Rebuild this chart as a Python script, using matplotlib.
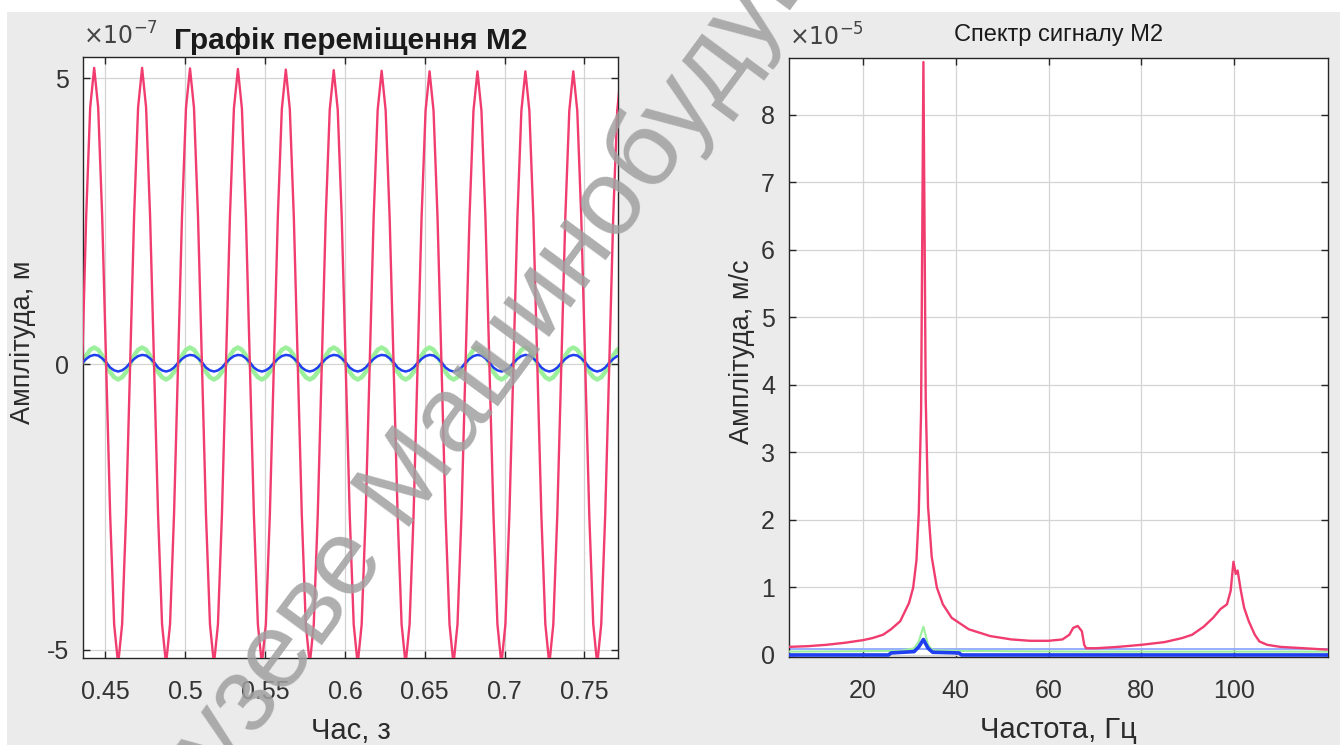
import matplotlib
matplotlib.use("Agg")
import matplotlib.pyplot as plt
import numpy as np
from matplotlib.patches import Rectangle

plt.rcParams['font.family'] = ['Liberation Sans', 'DejaVu Sans']

# displacement of M2, units of 1e-7 m, one sample every 0.0025 s from 0.4355 s
red_disp = [
    0.0, 2.59, 4.49, 5.18, 4.49, 2.59, 0.0, -2.63, -4.55, -5.25, -4.55, -2.63,
    0.0, 2.59, 4.49, 5.18, 4.49, 2.59, 0.0, -2.63, -4.55, -5.25, -4.55, -2.63,
    0.0, 2.59, 4.48, 5.17, 4.48, 2.59, 0.0, -2.63, -4.55, -5.25, -4.55, -2.63,
    0.0, 2.58, 4.47, 5.16, 4.47, 2.58, 0.0, -2.63, -4.55, -5.25, -4.55, -2.63,
    0.0, 2.58, 4.46, 5.15, 4.46, 2.58, 0.0, -2.63, -4.55, -5.25, -4.55, -2.63,
    0.0, 2.57, 4.45, 5.14, 4.45, 2.57, 0.0, -2.63, -4.55, -5.25, -4.55, -2.63,
    0.0, 2.57, 4.44, 5.13, 4.44, 2.57, 0.0, -2.63, -4.55, -5.25, -4.55, -2.63,
    0.0, 2.56, 4.43, 5.12, 4.43, 2.56, 0.0, -2.63, -4.55, -5.25, -4.55, -2.63,
    0.0, 2.56, 4.43, 5.12, 4.43, 2.56, 0.0, -2.63, -4.55, -5.25, -4.55, -2.63,
    0.0, 2.56, 4.43, 5.12, 4.43, 2.56, 0.0, -2.63, -4.55, -5.25, -4.55, -2.63,
    0.0, 2.56, 4.43, 5.12, 4.43, 2.56, 0.0, -2.63, -4.55, -5.25, -4.55, -2.63,
    0.0, 2.56, 4.43, 5.12,
]
green_disp = [
    0.0, 0.15, 0.25, 0.29, 0.25, 0.15, 0.0, -0.14, -0.23, -0.27, -0.23, -0.14,
    0.0, 0.15, 0.25, 0.29, 0.25, 0.15, 0.0, -0.14, -0.23, -0.27, -0.23, -0.14,
    0.0, 0.15, 0.25, 0.29, 0.25, 0.15, 0.0, -0.14, -0.23, -0.27, -0.23, -0.14,
    0.0, 0.15, 0.25, 0.29, 0.25, 0.15, 0.0, -0.14, -0.23, -0.27, -0.23, -0.14,
    0.0, 0.15, 0.25, 0.29, 0.25, 0.15, 0.0, -0.14, -0.23, -0.27, -0.23, -0.14,
    0.0, 0.15, 0.25, 0.29, 0.25, 0.15, 0.0, -0.14, -0.23, -0.27, -0.23, -0.14,
    0.0, 0.15, 0.25, 0.29, 0.25, 0.15, 0.0, -0.14, -0.23, -0.27, -0.23, -0.14,
    0.0, 0.15, 0.25, 0.29, 0.25, 0.15, 0.0, -0.14, -0.23, -0.27, -0.23, -0.14,
    0.0, 0.15, 0.25, 0.29, 0.25, 0.15, 0.0, -0.14, -0.23, -0.27, -0.23, -0.14,
    0.0, 0.15, 0.25, 0.29, 0.25, 0.15, 0.0, -0.14, -0.23, -0.27, -0.23, -0.14,
    0.0, 0.15, 0.25, 0.29, 0.25, 0.15, 0.0, -0.14, -0.23, -0.27, -0.23, -0.14,
    0.0, 0.15, 0.25, 0.29,
]
blue_disp = [
    0.02, 0.09, 0.14, 0.16, 0.15, 0.10, 0.03, -0.06, -0.11, -0.13, -0.11, -0.06,
    0.02, 0.09, 0.14, 0.16, 0.15, 0.10, 0.03, -0.06, -0.11, -0.13, -0.11, -0.06,
    0.02, 0.09, 0.14, 0.16, 0.15, 0.10, 0.03, -0.06, -0.11, -0.13, -0.11, -0.06,
    0.02, 0.09, 0.14, 0.16, 0.15, 0.10, 0.03, -0.06, -0.11, -0.13, -0.11, -0.06,
    0.02, 0.09, 0.14, 0.16, 0.15, 0.10, 0.03, -0.06, -0.11, -0.13, -0.11, -0.06,
    0.02, 0.09, 0.14, 0.16, 0.15, 0.10, 0.03, -0.06, -0.11, -0.13, -0.11, -0.06,
    0.02, 0.09, 0.14, 0.16, 0.15, 0.10, 0.03, -0.06, -0.11, -0.13, -0.11, -0.06,
    0.02, 0.09, 0.14, 0.16, 0.15, 0.10, 0.03, -0.06, -0.11, -0.13, -0.11, -0.06,
    0.02, 0.09, 0.14, 0.16, 0.15, 0.10, 0.03, -0.06, -0.11, -0.13, -0.11, -0.06,
    0.02, 0.09, 0.14, 0.16, 0.15, 0.10, 0.03, -0.06, -0.11, -0.13, -0.11, -0.06,
    0.02, 0.09, 0.14, 0.16, 0.15, 0.10, 0.03, -0.06, -0.11, -0.13, -0.11, -0.06,
    0.02, 0.09, 0.14, 0.16,
]
t = np.linspace(0.4355, 0.773, len(red_disp))

# spectrum of M2, units of 1e-5
red_f = [4, 8, 12, 16, 20, 22, 24.3, 26, 28, 29.9, 30.8, 31.5, 32.0, 32.5, 33.0,
         33.5, 34.0, 34.8, 35.9, 37.2, 39.1, 42.8, 47.4, 52, 56, 60, 63, 64.5,
         65.3, 66.3, 67.2, 67.7, 68.1, 70.4, 75, 80, 85, 88.8, 91, 93.5, 95.5,
         97.1, 98.5, 99.3, 99.9, 100.4, 100.8, 101.5, 102.2, 103.2, 104.5,
         105.5, 107.2, 110, 115, 120]
red_amp = [0.12, 0.13, 0.15, 0.18, 0.22, 0.25, 0.30, 0.38, 0.50, 0.77, 1.0, 1.4,
           2.1, 3.6, 8.78, 3.8, 2.2, 1.45, 1.0, 0.75, 0.55, 0.38, 0.28, 0.23,
           0.21, 0.21, 0.23, 0.30, 0.40, 0.43, 0.35, 0.15, 0.10, 0.10, 0.12,
           0.15, 0.19, 0.25, 0.30, 0.42, 0.55, 0.68, 0.75, 0.95, 1.38, 1.2, 1.25,
           0.95, 0.70, 0.50, 0.30, 0.20, 0.15, 0.12, 0.10, 0.08]
lblue_f = [4, 30, 40, 68, 120]
lblue_amp = [0.09, 0.09, 0.09, 0.09, 0.09]
green_f = [4, 28, 31, 32, 33, 34, 35, 40, 68, 120]
green_amp = [0.05, 0.06, 0.10, 0.20, 0.42, 0.15, 0.07, 0.06, 0.05, 0.05]
blue_f = [4, 25.5, 26, 31, 32, 33, 34, 35, 40.7, 41.2, 120]
blue_amp = [0.0, 0.0, 0.03, 0.05, 0.12, 0.23, 0.10, 0.04, 0.03, 0.0, 0.0]

RED = '#f03c6e'
GREEN = '#9cf09c'
BLUE = '#1f3ff0'
LBLUE = '#8fa8ff'
TXT = '#2b2b2b'

fig = plt.figure(figsize=(13.4, 7.45), dpi=100, facecolor='white')
# grey window background behind the axes
fig.patches.append(Rectangle((7 / 1340, 0), 1, 733 / 745, transform=fig.transFigure,
                             facecolor='#ebebeb', edgecolor='none', zorder=-5))

ax1 = fig.add_axes([83 / 1340, 1 - 658 / 745, 535 / 1340, 601 / 745])
ax2 = fig.add_axes([789 / 1340, 1 - 657 / 745, 539 / 1340, 599 / 745])

ax1.plot(t, green_disp, color=GREEN, lw=3.2, zorder=2)
ax1.plot(t, blue_disp, color=BLUE, lw=1.8, zorder=3)
ax1.plot(t, red_disp, color=RED, lw=1.7, zorder=4)
ax1.set_xlim(0.436, 0.771)
ax1.set_ylim(-5.14, 5.37)
ax1.set_xticks([0.45, 0.5, 0.55, 0.6, 0.65, 0.7, 0.75])
ax1.set_xticklabels(['0.45', '0.5', '0.55', '0.6', '0.65', '0.7', '0.75'])
ax1.set_yticks([-5, 0, 5])
ax1.set_yticklabels(['-5', '0', '5'])
ax1.set_xlabel('Час, з', fontsize=21, color=TXT)
ax1.set_ylabel('Амплітуда, м', fontsize=19.5, color=TXT)
ax1.xaxis.set_label_coords(0.5, -0.098)
ax1.yaxis.set_label_coords(-0.088, 0.526)
ax1.set_title('Графік переміщення М2', fontsize=21.5, fontweight='bold', color='#1a1a1a', pad=6)
ax1.text(0.0, 1.012, r'$\times10^{-7}$', transform=ax1.transAxes, fontsize=17,
         color='#444444', ha='left', va='bottom')

ax2.plot(red_f, red_amp, color=RED, lw=1.7, zorder=4)
ax2.plot(lblue_f, lblue_amp, color=LBLUE, lw=1.3, zorder=2)
ax2.plot(green_f, green_amp, color=GREEN, lw=1.5, zorder=3)
ax2.plot(blue_f, blue_amp, color=BLUE, lw=2.6, zorder=3)
ax2.set_xlim(4, 120.3)
ax2.set_ylim(-0.03, 8.84)
ax2.set_xticks([20, 40, 60, 80, 100])
ax2.set_yticks(range(9))
ax2.set_xlabel('Частота, Гц', fontsize=21, color=TXT)
ax2.set_ylabel('Амплітуда, м/с', fontsize=19.5, color=TXT)
ax2.xaxis.set_label_coords(0.5, -0.098)
ax2.yaxis.set_label_coords(-0.063, 0.509)
ax2.set_title('Спектр сигналу М2', fontsize=17, color='#1a1a1a', pad=12)
ax2.text(0.0, 1.012, r'$\times10^{-5}$', transform=ax2.transAxes, fontsize=17,
         color='#444444', ha='left', va='bottom')

for ax in (ax1, ax2):
    ax.set_facecolor('white')
    ax.grid(True, color='#d4d4d4', lw=0.9)
    ax.set_axisbelow(True)
    ax.tick_params(direction='in', top=True, right=True, length=5, width=1,
                   color='#262626', labelsize=18, labelcolor='#333333')
    ax.tick_params(axis='x', pad=16)
    ax.tick_params(axis='y', pad=10)
    for s in ax.spines.values():
        s.set_color('#262626')
        s.set_linewidth(1.0)

# watermark
fig.text(516 / 1340, 1 - 334 / 745, 'Галузеве Машинобудування', rotation=53.6,
         rotation_mode='anchor', ha='center', va='center', fontsize=77.5,
         color='#a0a0a0', alpha=0.85, zorder=20)

fig.savefig('out.png', dpi=100, facecolor=fig.get_facecolor())
